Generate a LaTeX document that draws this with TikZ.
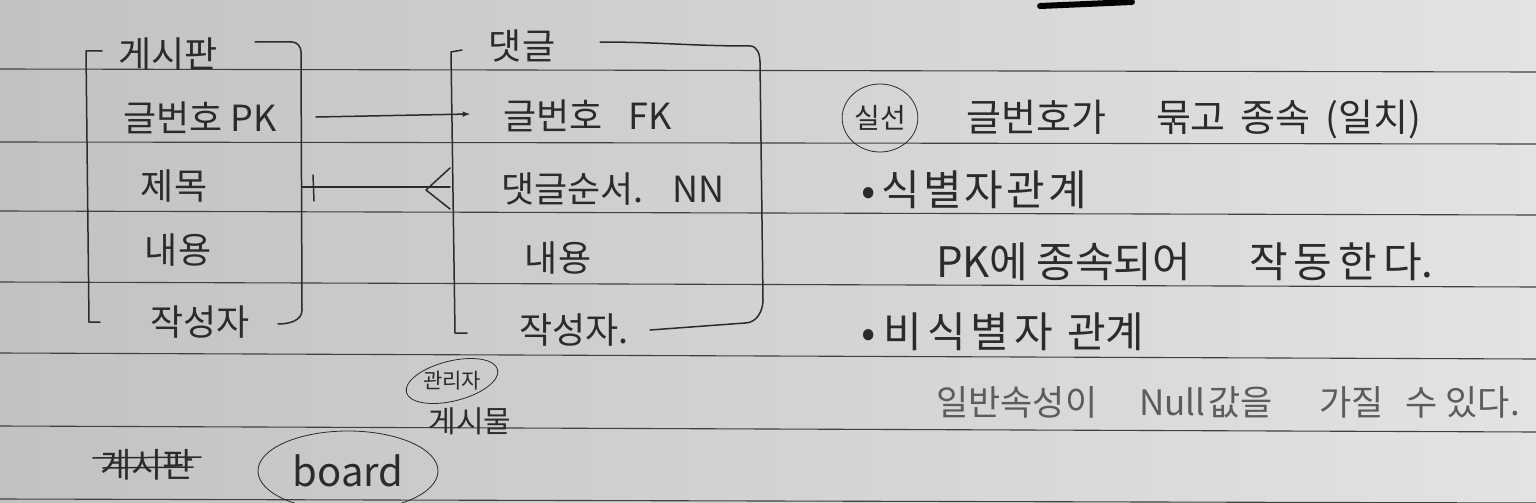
\documentclass[tikz,border=0pt]{standalone}
\usepackage{fontspec}
\newfontfamily\kr{Noto Sans CJK KR}
\usetikzlibrary{calc,positioning,arrows,shapes.geometric}
\definecolor{pencil}{gray}{0.17}
\definecolor{faint}{gray}{0.36}
\definecolor{paperL}{gray}{0.76}
\definecolor{paperR}{gray}{0.89}
\newcommand{\gap}[1]{\hspace{#1pt}}

\begin{document}
\begin{tikzpicture}[
x=1pt, y=-1pt,
row/.style={font=\kr\fontsize{36}{40}\selectfont, text=pencil, inner sep=1pt},
note/.style={row, anchor=west},
big/.style={font=\kr\fontsize{42}{46}\selectfont},
circ/.style={draw=pencil, thick, ellipse, text=pencil},
rule/.style={black!75, line width=1.1pt},
pen/.style={pencil, line width=1.5pt, line cap=round, line join=round}
]
% paper
\shade[left color=paperL, right color=paperR] (0,0) rectangle (1536,503);
\useasboundingbox (0,0) rectangle (1536,503);
\foreach \l/\r in {69/72, 142/144, 211/215, 282/287, 353/359, 426/432, 499/503}
  \draw[rule] (0,\l) -- (1536,\r);
\draw[line width=6pt, black, line cap=round] (1040,6) -- (1132,2);

% board table
\node[row] (bt) at (168,54) {게시판};
\node[row] (b1) at (200,118) {글번호 PK};
\node[row] (b2) at (174,186) {제목};
\node[row] (b3) at (178,250) {내용};
\node[row] (b4) at (200,322) {작성자};
\draw[pen] (102,51) -- (86,51) -- (89,322) -- (100,322);
\draw[pen] (255,42) -- (292,42) to[out=0,in=90] (301,52) -- (302,310)
  to[out=-90,in=0] (278,324);

% comment table
\node[row] (ct) at (522,46) {댓글};
\node[note] (c1) at (502,116) {글번호\gap{18} FK};
\node[note] (c2) at (500,189) {댓글순서.\gap{18} NN};
\node[row] (c3) at (558,258) {내용};
\node[row] (c4) at (574,330) {작성자.};
\draw[pen] (462,50) -- (451,52) -- (455,333) -- (467,333);
\draw[pen] (600,42) to[out=0,in=180] (750,46) to[out=0,in=90] (760,62)
  -- (763,300) to[out=-90,in=0] (745,323) -- (650,330);

% relations
\coordinate (pkout) at (316,117);
\coordinate (fkin) at (470,114);
\draw[pen,-latex] (pkout) -- (fkin);
\coordinate (one) at (302,187);
\coordinate (many) at (450,187);
\draw[pen] (one) -- (many);
\draw[pen] ($(one)+(11,-12)$) -- ($(one)+(12,14)$);
\draw[pen] ($(many)+(0,-19)$) -- ($(many)+(-24,3)$) -- ($(many)+(0,22)$);

% notes
\node[circ, font=\kr\fontsize{28}{30}\selectfont, inner sep=1pt,
  minimum width=64pt, minimum height=68pt] (sil) at (880,118) {실선};
\node[note, font=\kr\fontsize{38}{42}\selectfont] (n1) at (965,120)
  {글번호가\gap{50}묶고\gap{15}종속\gap{15}(일치)};
\node[note, big] (n2) at (860,190) {•\gap{6}식\gap{3}별\gap{3}자\gap{3}관\gap{3}계};
\node[note, big] (n3) at (935,262) {PK에\gap{8}종속되어\gap{58}작\gap{6}동\gap{6}한\gap{6}다.};
\node[note, big] (n4) at (860,332) {•\gap{8}비\gap{5}식\gap{5}별\gap{5}자\gap{14}관계};
\node[note, text=faint, font=\kr\fontsize{35}{39}\selectfont] (n5) at (935,402)
  {일반속성이\gap{42}Null\gap{3}값을\gap{46}가질\gap{22}수\gap{8}있다.};

% names
\node[font=\kr\fontsize{21}{23}\selectfont, text=pencil, inner sep=1pt] (adm) at (452,381) {관리자};
\draw[pencil, thick, rotate around={14:(adm.center)}] (adm.center) ellipse (47 and 20);
\node[row, font=\kr\fontsize{30}{34}\selectfont] (post) at (470,421) {게시물};
\node[row, font=\kr\fontsize{34}{38}\selectfont] (old) at (147,465) {게시판};
\draw[pen] ($(old.west)+(-6,-7)$) -- ($(old.east)+(6,-8)$);
\draw[pen] ($(old.west)+(4,3)$) -- ($(old.east)+(-2,2)$);
\node[circ, font=\kr\fontsize{40}{42}\selectfont, inner sep=1pt,
  minimum width=180pt, minimum height=80pt] (brd) at (348,471) {board};
\end{tikzpicture}
\end{document}
